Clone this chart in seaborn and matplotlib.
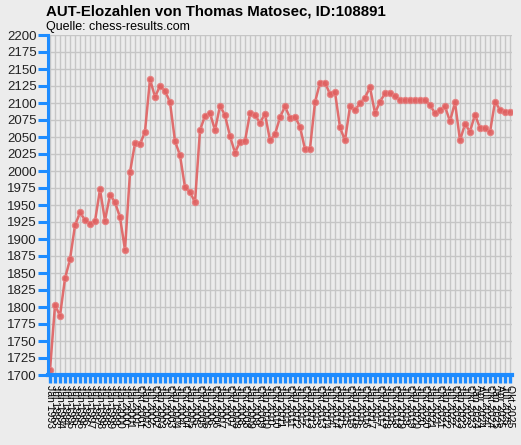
import matplotlib
matplotlib.use("Agg")
import matplotlib.pyplot as plt
import seaborn as sns
import pandas as pd

# Elo values, one per rating list
elo = [1707, 1803, 1787, 1842, 1870, 1920, 1939, 1928, 1922, 1926,
       1973, 1927, 1965, 1954, 1932, 1884, 1998, 2041, 2039, 2058,
       2135, 2109, 2125, 2118, 2101, 2044, 2023, 1976, 1969, 1954,
       2060, 2081, 2085, 2060, 2096, 2082, 2051, 2027, 2043, 2044,
       2085, 2082, 2071, 2084, 2045, 2054, 2079, 2095, 2078, 2080,
       2065, 2032, 2033, 2101, 2130, 2130, 2113, 2116, 2064, 2045,
       2095, 2089, 2100, 2108, 2123, 2085, 2102, 2114, 2114, 2110,
       2104, 2104, 2104, 2104, 2104, 2104, 2097, 2085, 2090, 2095,
       2073, 2101, 2045, 2069, 2058, 2083, 2063, 2063, 2057, 2102,
       2090, 2087, 2087]

dates = [
    "Jän 1993", "Jul 1993", "Jän 1994", "Jul 1994", "Jän 1995", "Jul 1995",
    "Jän 1996", "Jul 1996", "Jän 1997", "Jul 1997", "Jän 1998", "Jul 1998",
    "Jän 1999", "Jul 1999", "Jän 2000", "Jul 2000",
    "Jän 2001", "Jul 2001", "Okt 2001", "Jän 2002", "Jul 2002", "Okt 2002",
    "Jän 2003", "Jul 2003", "Okt 2003", "Jän 2004", "Jul 2004", "Okt 2004",
    "Jän 2005", "Jul 2005", "Okt 2005", "Jän 2006", "Jul 2006", "Okt 2006",
    "Jän 2007", "Jul 2007", "Okt 2007", "Jän 2008", "Jul 2008", "Okt 2008",
    "Jän 2009", "Jul 2009", "Okt 2009", "Jän 2010", "Jul 2010", "Okt 2010",
    "Jän 2011", "Jul 2011", "Okt 2011", "Jän 2012", "Jul 2012", "Okt 2012",
    "Jän 2013", "Jul 2013", "Okt 2013", "Jän 2014", "Jul 2014", "Okt 2014",
    "Jän 2015", "Jul 2015", "Okt 2015", "Jän 2016", "Jul 2016", "Okt 2016",
    "Jän 2017", "Jul 2017", "Okt 2017", "Jän 2018", "Jul 2018", "Okt 2018",
    "Jän 2019", "Jul 2019", "Okt 2019", "Jän 2020", "Jul 2020", "Okt 2020",
    "Jän 2021", "Jul 2021", "Okt 2021", "Jän 2022", "Jul 2022", "Okt 2022",
    "Jän 2023", "Jul 2023", "Okt 2023", "Jän 2024", "Apr 2024", "Jul 2024",
    "Okt 2024", "Jän 2025", "Apr 2025", "Jul 2025", "Okt 2025",
]

yticks = list(range(1700, 2201, 25))

bg = "#ececec"
blue = "#1e8cff"
red = "#e06060"

sns.set_theme(style="whitegrid")
plt.rcParams["font.family"] = ["Liberation Sans", "DejaVu Sans"]

df = pd.DataFrame({"pos": range(len(elo)), "elo": elo})

fig = plt.figure(figsize=(5.21, 4.45), dpi=100, facecolor=bg)
ax = fig.add_axes([48 / 521, 70 / 445, 464 / 521, 340 / 445])
ax.set_facecolor(bg)

sns.lineplot(data=df, x="pos", y="elo", ax=ax, color=red, linewidth=1.8,
             marker="o", markersize=4.6, markeredgecolor="#e88080",
             markerfacecolor=red, alpha=0.9)

ax.set_xlim(-0.4, len(elo) - 0.6)
ax.set_ylim(1700, 2200)
ax.set_yticks(yticks)
ax.set_xticks(range(len(dates)))
ax.set_xticklabels(dates, rotation=-90, fontsize=7.5, color="black")
ax.set_yticklabels([str(v) for v in yticks], fontsize=9.5, color="#222222")
ax.set_xlabel("")
ax.set_ylabel("")

ax.grid(True, color="#c6c6c6", linewidth=1.0)
ax.set_axisbelow(True)

for side in ["top", "right"]:
    ax.spines[side].set_visible(False)
ax.spines["left"].set_color(blue)
ax.spines["left"].set_linewidth(2.2)
ax.spines["bottom"].set_color(blue)
ax.spines["bottom"].set_linewidth(3.0)

ax.tick_params(axis="y", left=True, colors=blue, length=7, width=2.2,
               labelcolor="#222222", pad=1)
ax.tick_params(axis="x", bottom=True, colors=blue, length=6, width=2.4,
               labelcolor="black", pad=1)

fig.text(46 / 521, 1 - 11 / 445, "AUT-Elozahlen von Thomas Matosec, ID:108891",
         fontsize=10.8, fontweight="bold", va="center", ha="left", color="black")
fig.text(46 / 521, 1 - 27 / 445, "Quelle: chess-results.com",
         fontsize=9, va="center", ha="left", color="black")

fig.savefig("out.png", dpi=100, facecolor=bg)
